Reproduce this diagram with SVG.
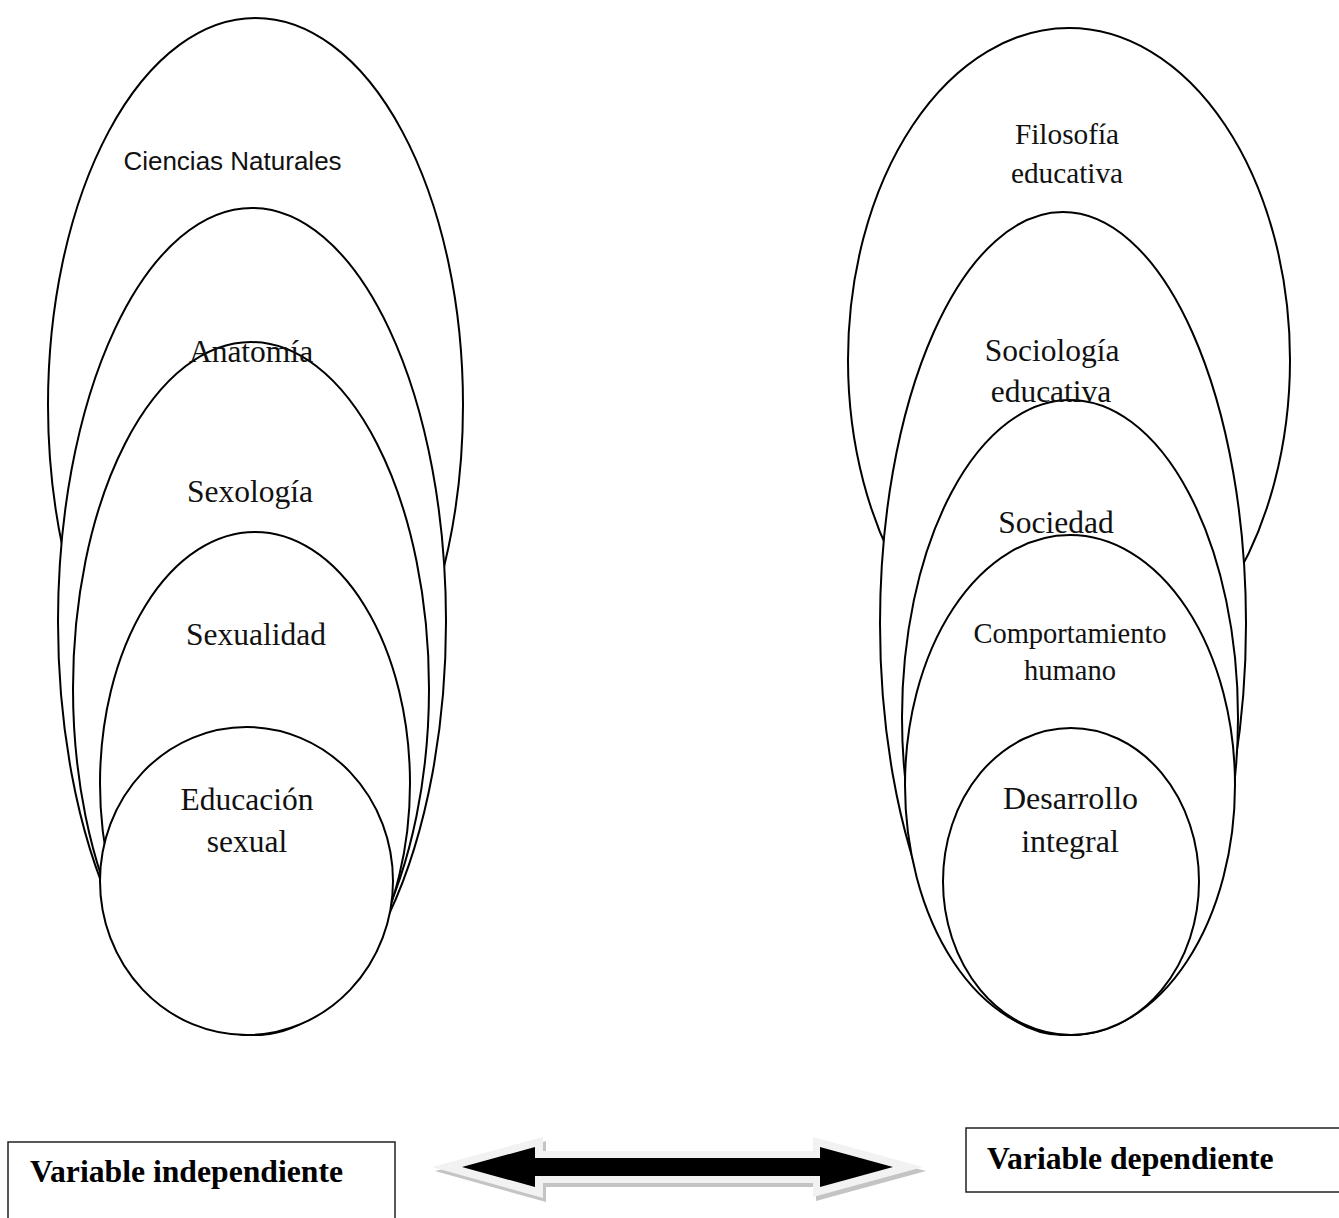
<svg xmlns="http://www.w3.org/2000/svg" width="1339" height="1218" viewBox="0 0 1339 1218">
<style>
.el{fill:#fff;stroke:#000;stroke-width:2}
.t{font-family:"Liberation Serif","Times New Roman",serif;fill:#111;text-anchor:middle}
.s{font-family:"Liberation Sans",Arial,sans-serif;fill:#111;text-anchor:middle}
.b{font-family:"Liberation Serif","Times New Roman",serif;font-weight:bold;fill:#000;font-size:31.7px}
.box{fill:#fff;stroke:#222;stroke-width:1.5}
</style>
<rect width="1339" height="1218" fill="#fff"/>
<g id="left-group">
  <g id="n-ciencias"><ellipse class="el" cx="255.5" cy="405" rx="207.5" ry="387"/></g>
  <g id="n-anatomia"><ellipse class="el" cx="252" cy="621.5" rx="194" ry="413.5"/></g>
  <g id="n-sexologia"><ellipse class="el" cx="251" cy="688.5" rx="178" ry="346.5"/></g>
  <g id="n-sexualidad"><ellipse class="el" cx="255" cy="783.5" rx="155" ry="251.5"/></g>
  <g id="n-educacion"><ellipse class="el" cx="246.5" cy="881" rx="146.5" ry="154"/></g>
</g>
<g id="right-group">
  <g id="n-filosofia"><ellipse class="el" cx="1069" cy="360" rx="221" ry="332"/></g>
  <g id="n-sociologia"><ellipse class="el" cx="1063" cy="623.5" rx="183" ry="411.5"/></g>
  <g id="n-sociedad"><ellipse class="el" cx="1070" cy="717.5" rx="168" ry="317.5"/></g>
  <g id="n-comportamiento"><ellipse class="el" cx="1070" cy="785" rx="165" ry="250"/></g>
  <g id="n-desarrollo"><ellipse class="el" cx="1071" cy="881.5" rx="128" ry="153.5"/></g>
</g>
<g id="labels">
  <text class="s" x="232.5" y="170" font-size="26">Ciencias Naturales</text>
  <text class="t" x="251" y="362" font-size="31.5">Anatomía</text>
  <text class="t" x="250" y="502" font-size="31.5">Sexología</text>
  <text class="t" x="256" y="645" font-size="31.5">Sexualidad</text>
  <text class="t" x="247" y="810" font-size="31.5">Educación</text>
  <text class="t" x="247" y="852" font-size="31.5">sexual</text>
  <text class="t" x="1067" y="144" font-size="29.3">Filosofía</text>
  <text class="t" x="1067" y="183" font-size="29.3">educativa</text>
  <text class="t" x="1052" y="361" font-size="31.5">Sociología</text>
  <text class="t" x="1051" y="402" font-size="31.5">educativa</text>
  <text class="t" x="1056" y="533" font-size="31.5">Sociedad</text>
  <text class="t" x="1070" y="643" font-size="28.5">Comportamiento</text>
  <text class="t" x="1070" y="680" font-size="28.5">humano</text>
  <text class="t" x="1070.5" y="809" font-size="32">Desarrollo</text>
  <text class="t" x="1070" y="852" font-size="32">integral</text>
</g>
<g id="connectors">
  <polygon points="435,1171 546,1141 546,1155 816,1155 816,1141 926,1171 816,1201 816,1187 546,1187 546,1202" fill="#c4c4c4"/>
  <polygon points="432,1167 543,1137 543,1151 813,1151 813,1137 923,1167 813,1197 813,1183 543,1183 543,1198" fill="#f2f2f2"/>
  <polygon points="462,1167 535,1147 535,1158 820,1158 820,1147 893,1167 820,1187 820,1176 535,1176 535,1187" fill="#000"/>
</g>
<g id="n-var-indep">
  <rect class="box" x="8" y="1142" width="387" height="90"/>
  <text class="b" x="30" y="1182">Variable independiente</text>
</g>
<g id="n-var-dep">
  <rect class="box" x="966" y="1128" width="390" height="64"/>
  <text class="b" x="987" y="1169">Variable dependiente</text>
</g>
</svg>
